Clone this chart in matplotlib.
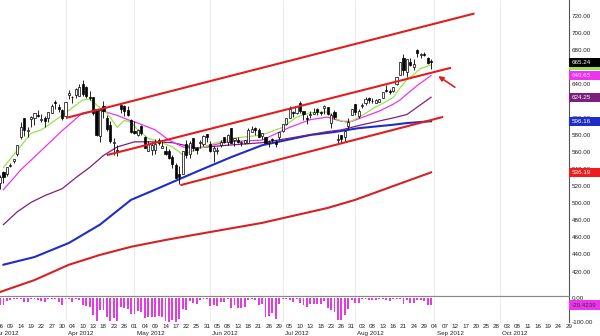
import matplotlib
matplotlib.use('Agg')
import matplotlib.pyplot as plt
import matplotlib.transforms as mtransforms
from matplotlib.patches import Rectangle
import numpy as np
import pandas as pd

plt.rcParams['font.family'] = ['Liberation Sans', 'DejaVu Sans']

# ------------------------------------------------------------
# trading calendar (x axis = trading-day number since 1 Mar 2012)
# ------------------------------------------------------------
holidays = ['2012-04-06', '2012-05-28', '2012-07-04', '2012-09-03']
days = pd.bdate_range('2012-03-01', '2012-10-31', freq='C', holidays=holidays)

# ------------------------------------------------------------
# daily candles, 5 Mar 2012 .. 31 Aug 2012
# ------------------------------------------------------------
first_candle = '2012-03-05'
opens = [545.4, 523.7, 536.8, 534.7, 544.2, 549.0, 557.5, 578.1, 599.6, 584.7, 598.4, 599.5, 602.7, 597.8, 600.5, 599.8, 606.2, 618.4, 612.8, 608.8,
         601.8, 627.3, 624.4, 627.0, 626.1, 639.9, 636.2, 625.0, 624.1, 610.1, 578.9, 613.9, 600.2, 591.4, 570.6, 563.0, 615.0, 613.8, 609.0, 597.8,
         584.9, 580.0, 590.5, 577.1, 561.0, 563.0, 563.0, 574.6, 565.0, 560.8, 561.2, 554.2, 545.3, 534.0, 534.5, 569.6, 557.5, 575.9, 564.6, 570.9, 569.2, 580.7,
         569.2, 561.5, 561.3, 567.8, 577.3, 571.6, 587.7, 574.5, 574.5, 571.2, 571.0, 571.0, 583.4, 588.2, 585.4, 579.0, 577.3, 571.1, 575.0, 571.7, 578.0,
         584.7, 592.5, 600.0, 607.1, 605.3, 617.0, 607.7, 600.2, 602.9, 605.1, 610.4, 606.6, 611.4, 612.7, 594.4, 607.4, 574.5, 579.8, 578.2, 590.9, 603.2,
         615.9, 602.8, 613.6, 617.3, 622.8, 619.4, 617.9, 618.7, 623.4, 631.9, 631.3, 631.2, 640.0, 650.0, 670.8, 654.4, 666.1, 659.5, 680.0, 674.1, 675.3, 670.6, 667.3]
highs = [547.5, 533.7, 537.8, 543.0, 547.7, 552.0, 568.2, 594.7, 600.0, 589.2, 601.8, 606.0, 609.7, 604.5, 601.8, 607.2, 616.3, 621.5, 616.6, 610.6,
         618.8, 632.2, 625.9, 634.7, 639.8, 644.0, 636.9, 631.3, 624.8, 610.3, 610.0, 620.0, 604.0, 596.0, 576.7, 567.7, 618.0, 614.7, 614.0, 598.4,
         596.8, 587.4, 591.4, 578.4, 572.8, 572.0, 575.0, 575.9, 574.6, 567.5, 563.8, 556.9, 547.4, 543.4, 561.5, 573.9, 572.8, 576.5, 566.0, 574.0, 580.0, 581.5,
         572.7, 567.5, 566.5, 573.9, 577.3, 580.6, 588.5, 576.6, 578.0, 573.5, 574.6, 587.9, 590.0, 589.3, 588.2, 582.2, 578.0, 574.0, 576.7, 574.0, 584.0,
         593.3, 599.4, 614.2, 608.6, 613.9, 619.9, 608.1, 603.2, 607.9, 611.6, 611.5, 608.4, 615.4, 612.9, 605.9, 609.0, 580.8, 580.4, 586.0, 599.4, 611.0,
         616.4, 610.7, 618.0, 624.9, 625.0, 623.9, 621.7, 621.8, 630.0, 638.6, 634.0, 636.8, 648.2, 665.2, 674.9, 669.0, 669.9, 669.0, 680.9, 676.1, 677.7, 671.6, 668.6]
lows = [526.0, 516.2, 523.3, 532.1, 543.0, 547.0, 555.8, 575.4, 578.6, 578.0, 589.0, 592.0, 601.4, 595.5, 589.0, 595.3, 606.1, 610.3, 607.2, 597.9,
        600.4, 622.5, 617.3, 623.4, 625.3, 626.0, 623.3, 620.5, 603.5, 578.3, 571.9, 600.0, 584.8, 570.7, 556.0, 555.0, 606.0, 602.1, 602.8, 582.1,
        581.2, 578.9, 580.3, 565.2, 561.0, 556.0, 557.6, 568.4, 565.0, 556.9, 552.2, 541.0, 530.1, 522.2, 534.1, 552.6, 553.2, 561.2, 558.3, 565.3, 566.6, 571.5,
        560.5, 548.5, 558.3, 565.5, 570.5, 568.4, 570.6, 566.7, 570.4, 567.3, 569.6, 570.4, 583.1, 579.8, 577.4, 575.4, 570.1, 565.6, 571.9, 565.6, 574.3,
        583.6, 592.0, 599.4, 601.4, 604.2, 605.3, 597.0, 592.7, 600.2, 604.3, 603.3, 603.6, 605.1, 603.3, 587.7, 598.5, 570.0, 570.4, 573.0, 587.0, 603.0,
        603.0, 600.3, 611.6, 615.3, 618.0, 617.8, 617.1, 618.7, 623.3, 629.9, 628.0, 630.5, 638.8, 649.9, 650.3, 648.1, 661.2, 655.6, 671.0, 670.7, 672.6, 662.8, 657.2]
closes = [533.2, 530.3, 530.7, 542.0, 545.2, 552.0, 568.1, 589.6, 585.6, 585.6, 601.1, 606.0, 602.5, 599.3, 596.1, 607.0, 614.5, 617.6, 609.9, 599.6,
          618.6, 629.3, 624.3, 633.7, 636.2, 628.4, 626.2, 622.8, 605.2, 580.1, 609.7, 608.3, 587.4, 573.0, 571.7, 560.3, 610.0, 607.7, 603.0, 584.0,
          582.1, 586.0, 581.8, 565.3, 569.5, 568.2, 569.2, 570.5, 566.7, 558.2, 553.2, 546.1, 530.1, 530.4, 561.3, 557.0, 570.6, 565.3, 562.3, 572.3, 579.2, 577.7,
          561.0, 564.3, 562.8, 571.5, 571.7, 580.3, 571.2, 576.2, 572.2, 571.5, 574.1, 585.8, 587.4, 585.7, 577.7, 582.1, 570.8, 572.0, 574.5, 569.1, 584.0,
          592.5, 599.4, 609.9, 605.9, 613.9, 608.2, 604.4, 598.9, 605.0, 606.9, 606.9, 606.3, 614.3, 604.3, 603.8, 600.9, 575.0, 574.9, 585.2, 595.0, 610.8,
          606.8, 607.8, 615.7, 622.6, 620.9, 619.9, 620.7, 621.7, 630.0, 631.7, 630.8, 636.3, 648.1, 665.2, 656.1, 668.9, 662.6, 663.2, 675.7, 674.8, 673.5, 663.9, 665.24]

# Williams %R(14), same days as the candles
williams_r = [-24, -29, -28, -13, -7, -3, -3, -6, -17, -17, -3, -3, -8, -11, -15, -3, -3, -4, -15, -29,
              -4, -5, -15, -3, -7, -28, -32, -39, -70, -97, -48, -50, -79, -97, -82, -94, -38, -41, -46, -65,
              -65, -56, -59, -84, -78, -79, -78, -75, -81, -96, -98, -93, -100, -89, -44, -50, -14, -21, -26, -8, -3, -6,
              -35, -29, -32, -17, -17, -3, -43, -31, -41, -43, -36, -7, -6, -10, -30, -25, -78, -73, -63, -86, -25,
              -3, -3, -9, -17, -3, -22, -29, -39, -27, -24, -24, -25, -12, -43, -50, -59, -90, -90, -70, -45, -10,
              -21, -19, -5, -4, -8, -9, -8, -6, -3, -10, -12, -5, -3, -3, -25, -10, -21, -20, -8, -10, -12, -30, -29.4239]

# moving averages, sampled (trading-day number, price)
green_day = [4, 12, 15, 21, 27, 29, 32, 34, 37, 39, 41, 43, 46, 50, 53, 56, 58, 60, 65, 70, 79, 85, 89, 93, 98, 101, 104, 108, 112, 114, 117, 119, 121, 123, 125, 128]
green_val = [542, 582, 586, 603, 621, 622, 612, 606, 589, 597, 595, 586, 576, 571, 566, 557, 560, 563, 570, 576, 580, 589, 601, 606, 607, 598, 594, 603, 613, 617, 624, 635, 645, 651, 658, 662]
magenta_day = [4, 9, 15, 21, 27, 32, 37, 40, 43, 48, 52, 56, 60, 69, 79, 87, 93, 98, 102, 105, 109, 113, 117, 119, 121, 124, 128]
magenta_val = [516, 539, 562, 585, 606, 609, 603, 598, 594, 586, 574, 566, 564, 572, 574, 589, 598, 601, 596, 596, 602, 608, 616, 621, 628, 638, 649.65]
purple_day = [4, 8, 12, 16, 21, 25, 29, 33, 37, 42, 47, 53, 60, 69, 79, 88, 98, 102, 108, 117, 121, 128]
purple_val = [475, 490, 501, 509, 517, 530, 542, 556, 566, 572, 572, 571, 565, 568, 571, 577, 584, 586, 592, 600, 604, 624.25]
blue_day = [4, 13, 23, 32, 41, 48, 60, 70, 79, 86, 93, 100, 107, 117, 121, 128]
blue_val = [428, 437, 453.5, 475, 504, 516, 537, 554, 568, 574, 580, 583.5, 588, 592, 594, 596.16]
red_day = [3, 13, 23, 32, 41, 51, 60, 79, 98, 106, 128]
red_val = [396, 410, 428, 439.5, 449, 457, 463.5, 477, 494.5, 504, 536.19]

# hand-drawn channel (trading-day number, price)
chan_top_day, chan_top_val = [22.2, 140.6], [600.0, 722.4]
chan_mid_day, chan_mid_val = [34.0, 133.8], [556.5, 658.8]
chan_low_day, chan_low_val = [55.3, 131.5], [521.2, 601.2]
arrow_tail, arrow_head = (134.9, 636.0), (130.1, 649.0)

# last-value flags on the price scale
flag_vals = [661.9, 665.24, 649.65, 624.25, 596.16, 536.19]
flag_text = ['661.90', '665.24', '649.65', '624.25', '596.16', '536.19']
flag_face = ['#99e34f', '#000000', '#ee33ee', '#7d1f7d', '#1f2dc8', '#ee1c1c']
flag_font = ['#000000', '#ffffff', '#ffd0ff', '#ffffff', '#ffffff', '#ffffff']

price_ticks = [420, 440, 460, 480, 500, 520, 540, 560, 580, 600, 640, 680, 700, 720]
tick_every = 3     # one date label every third session
month_names = ['Mar 2012', 'Apr 2012', 'May 2012', 'Jun 2012', 'Jul 2012', 'Aug 2012', 'Sep 2012', 'Oct 2012']

FS = 4.5

# ============================================================
fig = plt.figure(figsize=(6.0, 3.36), dpi=100)
ax = fig.add_axes([0.0, 0.1205, 0.9483, 0.8795])
ax2 = fig.add_axes([0.0, 0.0402, 0.9483, 0.0803], sharex=ax)

x_c = np.arange(len(closes)) + days.get_loc(pd.Timestamp(first_candle))
o = np.array(opens); h = np.array(highs); l = np.array(lows); c = np.array(closes)

# month grid
month_start = [i for i in range(len(days)) if i == 0 or days[i].month != days[i - 1].month]
for a in (ax, ax2):
    for m in month_start:
        a.axvline(m, color='#e8e8e8', lw=0.6, zorder=0)

# moving averages
ax.plot(red_day, red_val, color='#d42222', lw=1.5, zorder=2)
ax.plot(blue_day, blue_val, color='#1f2dc8', lw=1.5, zorder=2)
ax.plot(purple_day, purple_val, color='#7d1f7d', lw=0.9, zorder=2)
ax.plot(magenta_day, magenta_val, color='#ee33ee', lw=0.9, zorder=2)
ax.plot(green_day, green_val, color='#99e34f', lw=0.9, zorder=2)

# channel lines
for xs, ys in [(chan_top_day, chan_top_val), (chan_mid_day, chan_mid_val), (chan_low_day, chan_low_val)]:
    ax.plot(xs, ys, color='#e01e1e', lw=1.5, solid_capstyle='butt', zorder=4)
ax.annotate('', xy=arrow_head, xytext=arrow_tail,
            arrowprops=dict(arrowstyle='-|>', color='#e01e1e', lw=1.2,
                            mutation_scale=7, shrinkA=0, shrinkB=0), zorder=5)

# candles
up = c >= o
ax.vlines(x_c, l, h, color='black', lw=0.6, zorder=3)
body_lo = np.minimum(o, c)
body_h = np.maximum(np.abs(c - o), 0.8)
ax.bar(x_c, body_h, bottom=body_lo, width=0.62,
       color=np.where(up, 'white', 'black'), edgecolor='black', linewidth=0.5, zorder=3.5)

ax.set_xlim(3.73, 164.9)
ax.set_ylim(391.9, 738.2)

# price scale on the right
ax.yaxis.tick_right()
ax.set_yticks(price_ticks)
ax.set_yticklabels([f'{v:.2f}' for v in price_ticks])
ax.tick_params(axis='y', length=0, pad=2, labelsize=FS, labelcolor='#222222')
ax.tick_params(axis='x', bottom=False, labelbottom=False)
for s in ['top', 'left']:
    ax.spines[s].set_visible(False)
ax.spines['right'].set_color('#555555')
ax.spines['right'].set_linewidth(0.8)
ax.spines['bottom'].set_color('#888888')
ax.spines['bottom'].set_linewidth(0.8)

trans = mtransforms.blended_transform_factory(ax.transAxes, ax.transData)
box_w = 31 / 569.0
for v, t, fc, tc in zip(flag_vals, flag_text, flag_face, flag_font):
    ax.add_patch(Rectangle((1.0, v - 5.3), box_w, 10.6, transform=trans,
                           facecolor=fc, edgecolor='none', clip_on=False, zorder=10))
    if t != '661.90':
        ax.text(1.004, v, t, transform=trans, fontsize=FS, color=tc,
                va='center', ha='left', clip_on=False, zorder=11)

# Williams %R panel
ax2.bar(x_c, williams_r, width=0.55, color='#e23be2', zorder=2)
ax2.set_ylim(-102, 10.4)
ax2.yaxis.tick_right()
ax2.set_yticks([0, -100])
ax2.set_yticklabels(['0.00', '-100.00'])
ax2.tick_params(axis='y', length=0, pad=2, labelsize=FS, labelcolor='#222222')
for s in ['left', 'bottom']:
    ax2.spines[s].set_visible(False)
ax2.spines['top'].set_color('#888888')
ax2.spines['top'].set_linewidth(0.8)
ax2.spines['right'].set_color('#555555')
ax2.spines['right'].set_linewidth(0.8)

trans2 = mtransforms.blended_transform_factory(ax2.transAxes, ax2.transData)
ax2.add_patch(Rectangle((1.0, williams_r[-1] - 20), box_w, 40, transform=trans2,
                        facecolor='#ee33ee', edgecolor='none', clip_on=False, zorder=10))
ax2.text(1.004, williams_r[-1], f'{williams_r[-1]:.4f}', transform=trans2, fontsize=FS,
         color='#333333', va='center', ha='left', clip_on=False, zorder=11)

# date labels
tick_pos = list(range(3, len(days), tick_every))
ax2.set_xticks(tick_pos)
ax2.set_xticklabels([days[i].strftime('%d') for i in tick_pos])
ax2.tick_params(axis='x', length=0, pad=0.8, labelsize=FS, labelcolor='#222222')
trans3 = mtransforms.blended_transform_factory(ax2.transData, fig.transFigure)
for m, name in zip(month_start, month_names):
    ax2.text(m + 0.6, 0.0, name, transform=trans3, fontsize=FS, color='#222222',
             ha='left', va='bottom', clip_on=False)

fig.savefig('out.png', dpi=100)
